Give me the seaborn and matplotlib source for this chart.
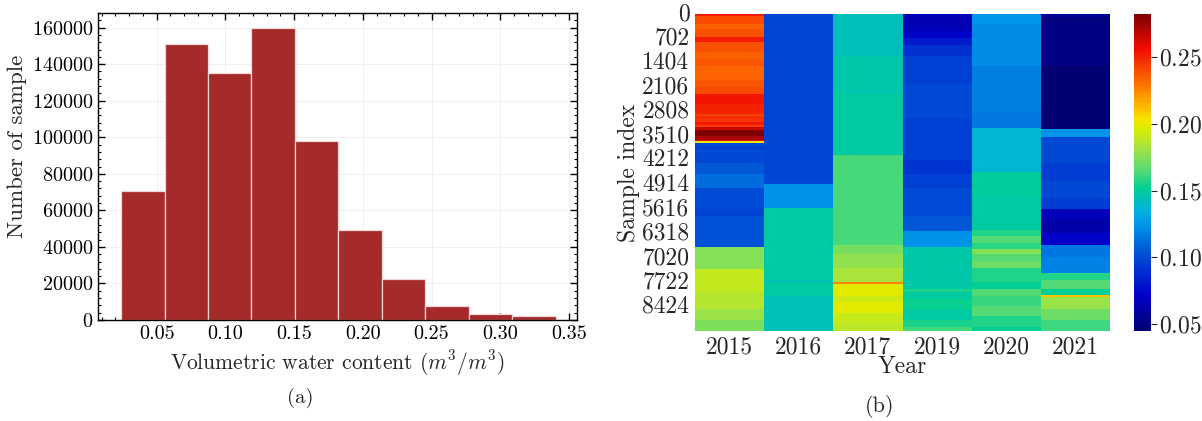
import numpy as np
import pandas as pd
import matplotlib
matplotlib.use("Agg")
import matplotlib.pyplot as plt
from matplotlib.colors import LinearSegmentedColormap
from matplotlib.ticker import AutoMinorLocator, MultipleLocator
import seaborn as sns

# ---- (a) histogram of volumetric water content ----
bin_edges = [0.0242, 0.0558, 0.0874, 0.1190, 0.1506, 0.1822,
             0.2138, 0.2454, 0.2770, 0.3086, 0.3404]
bin_counts = [70750, 150900, 135300, 159700, 97800,
              49100, 22400, 7640, 3100, 2000]

# ---- (b) per-year sample profiles: (start row, value) step segments ----
n_samples = 9120
years = ["2015", "2016", "2017", "2019", "2020", "2021"]

starts_2015 = [0, 60, 300, 420, 670, 800, 1100, 1300, 1500, 1900, 2100, 2290,
               2600, 2880, 2950, 3000, 3100, 3180, 3250, 3350, 3500, 3620, 3660,
               3700, 3800, 3900, 4000, 4300, 4600, 5000, 5600, 5800, 6690, 7350,
               8000, 8500, 8800]
values_2015 = [0.252, 0.240, 0.234, 0.238, 0.252, 0.238, 0.234, 0.237, 0.233,
               0.236, 0.240, 0.254, 0.250, 0.243, 0.252, 0.245, 0.253, 0.244,
               0.265, 0.282, 0.272, 0.258, 0.200, 0.100, 0.096, 0.102, 0.099,
               0.106, 0.112, 0.101, 0.097, 0.104, 0.175, 0.190, 0.186, 0.180,
               0.173]

starts_2016 = [0, 4800, 4880, 5580, 7650, 7700, 8100]
values_2016 = [0.098, 0.100, 0.123, 0.148, 0.144, 0.148, 0.144]

starts_2017 = [0, 1200, 2300, 4060, 6660, 6900, 7300, 7700, 7760, 8100, 8300,
               8600, 8900]
values_2017 = [0.143, 0.146, 0.149, 0.163, 0.172, 0.178, 0.183, 0.225, 0.198,
               0.193, 0.198, 0.191, 0.188]

starts_2019 = [0, 500, 700, 900, 1200, 2000, 3000, 4200, 4600, 5000, 5800, 6250,
               6690, 7900, 8000, 8200, 8500, 8800, 9000]
values_2019 = [0.066, 0.072, 0.082, 0.091, 0.096, 0.100, 0.096, 0.092, 0.096,
               0.101, 0.106, 0.124, 0.147, 0.156, 0.149, 0.153, 0.148, 0.156, 0.162]

starts_2020 = [0, 300, 1500, 2800, 3290, 4550, 5200, 6200, 6400, 6600, 6750,
               6900, 7100, 7300, 7700, 7900, 8100, 8400, 8700, 9000]
values_2020 = [0.125, 0.121, 0.118, 0.116, 0.137, 0.150, 0.148, 0.157, 0.165,
               0.158, 0.175, 0.165, 0.170, 0.157, 0.152, 0.165, 0.160, 0.165,
               0.157, 0.152]

starts_2021 = [0, 100, 1500, 3300, 3550, 4300, 4800, 5300, 5600, 5900, 6300,
               6650, 7000, 7450, 7650, 7900, 8080, 8130, 8500, 8800]
values_2021 = [0.058, 0.050, 0.045, 0.124, 0.099, 0.095, 0.099, 0.095, 0.068,
               0.062, 0.072, 0.115, 0.119, 0.157, 0.165, 0.152, 0.210, 0.180,
               0.170, 0.161]

profiles = {
    "2015": (starts_2015, values_2015),
    "2016": (starts_2016, values_2016),
    "2017": (starts_2017, values_2017),
    "2019": (starts_2019, values_2019),
    "2020": (starts_2020, values_2020),
    "2021": (starts_2021, values_2021),
}


def expand(starts, values, total):
    lengths = np.diff(list(starts) + [total])
    return np.repeat(values, lengths)


moisture = pd.DataFrame({y: expand(*profiles[y], n_samples) for y in years})

# print-toned jet palette
jet_print = LinearSegmentedColormap.from_list("jet_print", [
    (0.00, (0.00, 0.00, 0.45)),
    (0.11, (0.00, 0.00, 0.78)),
    (0.25, (0.00, 0.33, 0.84)),
    (0.34, (0.00, 0.60, 0.92)),
    (0.38, (0.00, 0.70, 0.86)),
    (0.45, (0.00, 0.81, 0.58)),
    (0.51, (0.35, 0.86, 0.45)),
    (0.58, (0.65, 0.89, 0.25)),
    (0.64, (0.86, 0.93, 0.00)),
    (0.67, (0.98, 0.88, 0.00)),
    (0.76, (1.00, 0.52, 0.00)),
    (0.89, (0.95, 0.05, 0.00)),
    (1.00, (0.50, 0.00, 0.00)),
])

# ---- style ----
sns.set_style("white")
plt.rcParams["font.family"] = ["cmr10", "DejaVu Serif"]
plt.rcParams["mathtext.fontset"] = "cm"
plt.rcParams["axes.unicode_minus"] = False
plt.rcParams["axes.formatter.use_mathtext"] = True

W, H = 1202, 421
fig = plt.figure(figsize=(W / 100, H / 100), dpi=100)


def box(x0, y0, x1, y1):
    return [x0 / W, 1 - y1 / H, (x1 - x0) / W, (y1 - y0) / H]


# ---- (a) ----
ax1 = fig.add_axes(box(98, 13, 577, 320))
centers = [(a + b) / 2 for a, b in zip(bin_edges[:-1], bin_edges[1:])]
sns.histplot(x=centers, weights=bin_counts, bins=bin_edges, ax=ax1,
             color="#A52A2A", alpha=1.0, edgecolor="#f3d6d6", linewidth=0.9)
ax1.set_ylim(0, 168000)
ax1.xaxis.set_major_locator(MultipleLocator(0.05))
ax1.yaxis.set_major_locator(MultipleLocator(20000))
ax1.xaxis.set_minor_locator(AutoMinorLocator(5))
ax1.yaxis.set_minor_locator(AutoMinorLocator(5))
ax1.set_xticks([0.05, 0.10, 0.15, 0.20, 0.25, 0.30, 0.35])
ax1.set_xticklabels(["0.05", "0.10", "0.15", "0.20", "0.25", "0.30", "0.35"])
ax1.set_xlim(0.0074, 0.3558)
ax1.tick_params(which="both", direction="in", top=True, right=True,
                bottom=True, left=True, labelsize=14.5, colors="black")
ax1.tick_params(which="major", length=5, width=1)
ax1.tick_params(which="minor", length=2.5, width=0.8)
for s in ax1.spines.values():
    s.set_visible(True)
    s.set_color("black")
    s.set_linewidth(1.0)
ax1.grid(True, color="#ececec", linewidth=0.6)
ax1.set_axisbelow(True)
ax1.set_xlabel(r"Volumetric water content ($m^3/m^3$)", fontsize=15.5, labelpad=4)
ax1.set_ylabel("Number of sample", fontsize=16.5)
ax1.yaxis.set_label_coords(-0.148, 0.565)

# ---- (b) ----
ax2 = fig.add_axes(box(695, 14, 1110, 331))
cax = fig.add_axes(box(1134, 14, 1151, 331))
sns.heatmap(moisture, cmap=jet_print, ax=ax2, cbar_ax=cax, yticklabels=702,
            xticklabels=years)
ax2.tick_params(axis="both", length=0, labelsize=17, pad=4)
ax2.set_yticklabels(ax2.get_yticklabels(), rotation=0)
ax2.set_xticklabels(ax2.get_xticklabels(), rotation=0)
ax2.set_xlabel("Year", fontsize=17, labelpad=-2)
ax2.set_ylabel("Sample index", fontsize=17, labelpad=2)
cax.yaxis.set_major_locator(MultipleLocator(0.05))
cax.tick_params(length=4, width=0.8, labelsize=17, pad=2, right=True)

fig.text(300 / W, 1 - 398 / H, "(a)", ha="center", va="center", fontsize=15)
fig.text(880 / W, 1 - 407 / H, "(b)", ha="center", va="center", fontsize=16)

fig.savefig("out.png", dpi=100)
